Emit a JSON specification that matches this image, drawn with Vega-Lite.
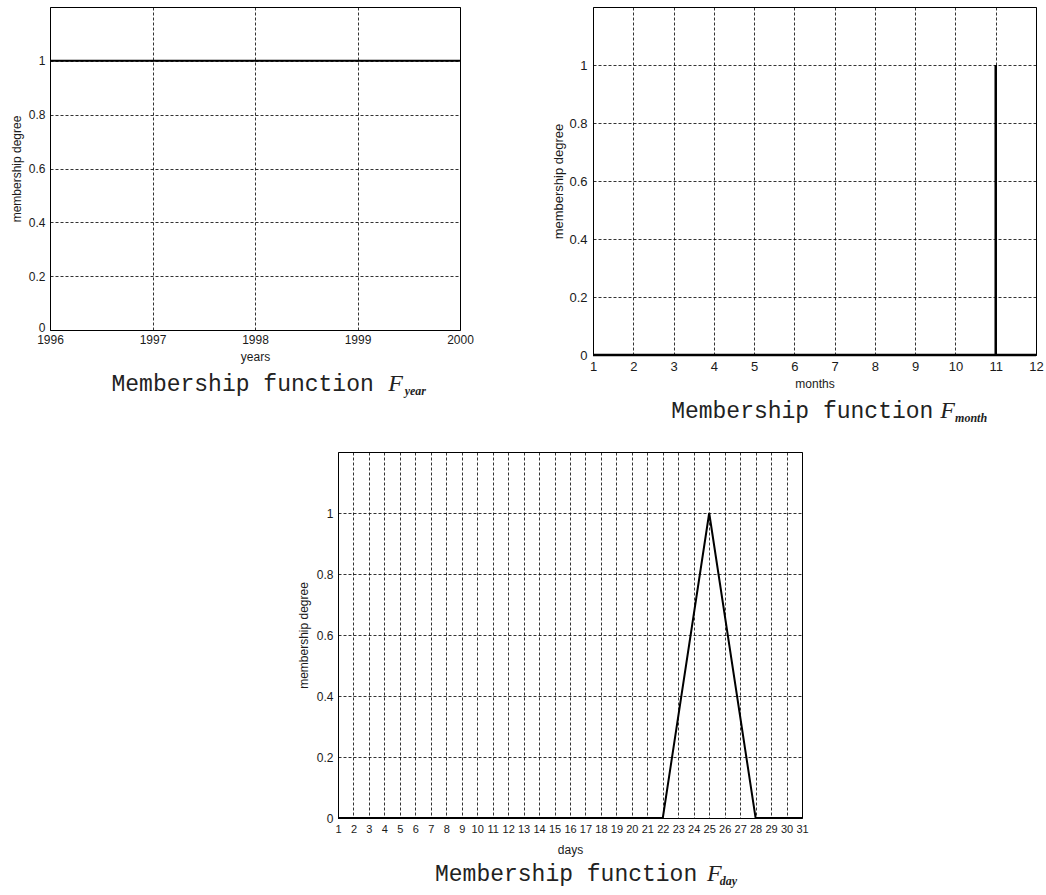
{
  "$schema": "https://vega.github.io/schema/vega-lite/v6.json",
  "background": "white",
  "padding": {"left": 9, "top": 6, "right": 0, "bottom": 0},
  "spacing": 26,
  "vconcat": [
    {
      "spacing": 78,
      "hconcat": [
        {
          "width": 410,
          "height": 323,
          "layer": [
            {
              "data": {"values": [{"year": 1996, "degree": 1}, {"year": 2000, "degree": 1}]},
              "mark": {"type": "line", "color": "#000", "strokeWidth": 2},
              "encoding": {
                "x": {"field": "year", "type": "quantitative",
                      "scale": {"domain": [1996, 2000], "nice": false, "zero": false},
                      "axis": {"values": [1996, 1997, 1998, 1999, 2000], "format": "d", "title": "years", "labelPadding": 4, "titlePadding": 6}},
                "y": {"field": "degree", "type": "quantitative",
                      "scale": {"domain": [0, 1.2], "nice": false},
                      "axis": {"values": [0, 0.2, 0.4, 0.6, 0.8, 1], "format": "~g", "title": "membership degree", "labelPadding": 5, "titlePadding": 5,
                               "labelOffset": {"condition": {"test": "datum.value === 0", "value": -3}, "value": 0}}}
              }
            },
            {
              "data": {"values": [{"caption": "Membership function", "symbol": "F", "sub": "year"}]},
              "layer": [
                {
                  "mark": {"type": "text", "font": "Liberation Mono", "fontSize": 23, "align": "left", "baseline": "alphabetic", "color": "#222"},
                  "encoding": {
                    "x": {"datum": 1996.6, "type": "quantitative", "axis": {"values": [1996, 1997, 1998, 1999, 2000], "format": "d", "title": "years", "labelPadding": 4, "titlePadding": 6}},
                    "y": {"datum": -0.227, "type": "quantitative", "axis": {"values": [0, 0.2, 0.4, 0.6, 0.8, 1], "format": "~g", "title": "membership degree", "labelPadding": 5, "titlePadding": 5,
                                                                            "labelOffset": {"condition": {"test": "datum.value === 0", "value": -3}, "value": 0}}},
                    "text": {"field": "caption"}
                  }
                },
                {
                  "mark": {"type": "text", "font": "Liberation Serif", "fontStyle": "italic", "fontSize": 24, "align": "left", "baseline": "alphabetic", "color": "#222"},
                  "encoding": {
                    "x": {"datum": 1999.3, "type": "quantitative", "axis": {"values": [1996, 1997, 1998, 1999, 2000], "format": "d", "title": "years", "labelPadding": 4, "titlePadding": 6}},
                    "y": {"datum": -0.227, "type": "quantitative", "axis": {"values": [0, 0.2, 0.4, 0.6, 0.8, 1], "format": "~g", "title": "membership degree", "labelPadding": 5, "titlePadding": 5,
                                                                            "labelOffset": {"condition": {"test": "datum.value === 0", "value": -3}, "value": 0}}},
                    "text": {"field": "symbol"}
                  }
                },
                {
                  "mark": {"type": "text", "font": "Liberation Serif", "fontStyle": "italic", "fontWeight": "bold", "fontSize": 12, "align": "left", "baseline": "alphabetic", "color": "#222"},
                  "encoding": {
                    "x": {"datum": 1999.46, "type": "quantitative", "axis": {"values": [1996, 1997, 1998, 1999, 2000], "format": "d", "title": "years", "labelPadding": 4, "titlePadding": 6}},
                    "y": {"datum": -0.243, "type": "quantitative", "axis": {"values": [0, 0.2, 0.4, 0.6, 0.8, 1], "format": "~g", "title": "membership degree", "labelPadding": 5, "titlePadding": 5,
                                                                            "labelOffset": {"condition": {"test": "datum.value === 0", "value": -3}, "value": 0}}},
                    "text": {"field": "sub"}
                  }
                }
              ]
            }
          ]
        },
        {
          "width": 443,
          "height": 348,
          "layer": [
            {
              "data": {"values": [
                {"step": 1, "month": 1, "degree": 0},
                {"step": 2, "month": 11, "degree": 0},
                {"step": 3, "month": 11, "degree": 1},
                {"step": 4, "month": 11, "degree": 0},
                {"step": 5, "month": 12, "degree": 0}
              ]},
              "mark": {"type": "line", "color": "#000", "strokeWidth": 2.5},
              "encoding": {
                "order": {"field": "step", "type": "quantitative"},
                "x": {"field": "month", "type": "quantitative",
                      "scale": {"domain": [1, 12], "nice": false, "zero": false},
                      "axis": {"values": [1, 2, 3, 4, 5, 6, 7, 8, 9, 10, 11, 12], "format": "d", "title": "months", "labelFontSize": 13, "labelPadding": 5, "titlePadding": 5}},
                "y": {"field": "degree", "type": "quantitative",
                      "scale": {"domain": [0, 1.2], "nice": false},
                      "axis": {"values": [0, 0.2, 0.4, 0.6, 0.8, 1], "format": "~g", "title": "membership degree", "labelFontSize": 13, "titleFontSize": 13, "labelPadding": 6, "titlePadding": 3}}
              }
            },
            {
              "data": {"values": [{"caption": "Membership function", "symbol": "F", "sub": "month"}]},
              "layer": [
                {
                  "mark": {"type": "text", "font": "Liberation Mono", "fontSize": 23, "align": "left", "baseline": "alphabetic", "color": "#222"},
                  "encoding": {
                    "x": {"datum": 2.94, "type": "quantitative", "axis": {"values": [1, 2, 3, 4, 5, 6, 7, 8, 9, 10, 11, 12], "format": "d", "title": "months", "labelFontSize": 13, "labelPadding": 5, "titlePadding": 5}},
                    "y": {"datum": -0.217, "type": "quantitative", "axis": {"values": [0, 0.2, 0.4, 0.6, 0.8, 1], "format": "~g", "title": "membership degree", "labelFontSize": 13, "titleFontSize": 13, "labelPadding": 6, "titlePadding": 3}},
                    "text": {"field": "caption"}
                  }
                },
                {
                  "mark": {"type": "text", "font": "Liberation Serif", "fontStyle": "italic", "fontSize": 24, "align": "left", "baseline": "alphabetic", "color": "#222"},
                  "encoding": {
                    "x": {"datum": 9.62, "type": "quantitative", "axis": {"values": [1, 2, 3, 4, 5, 6, 7, 8, 9, 10, 11, 12], "format": "d", "title": "months", "labelFontSize": 13, "labelPadding": 5, "titlePadding": 5}},
                    "y": {"datum": -0.217, "type": "quantitative", "axis": {"values": [0, 0.2, 0.4, 0.6, 0.8, 1], "format": "~g", "title": "membership degree", "labelFontSize": 13, "titleFontSize": 13, "labelPadding": 6, "titlePadding": 3}},
                    "text": {"field": "symbol"}
                  }
                },
                {
                  "mark": {"type": "text", "font": "Liberation Serif", "fontStyle": "italic", "fontWeight": "bold", "fontSize": 12, "align": "left", "baseline": "alphabetic", "color": "#222"},
                  "encoding": {
                    "x": {"datum": 9.99, "type": "quantitative", "axis": {"values": [1, 2, 3, 4, 5, 6, 7, 8, 9, 10, 11, 12], "format": "d", "title": "months", "labelFontSize": 13, "labelPadding": 5, "titlePadding": 5}},
                    "y": {"datum": -0.232, "type": "quantitative", "axis": {"values": [0, 0.2, 0.4, 0.6, 0.8, 1], "format": "~g", "title": "membership degree", "labelFontSize": 13, "titleFontSize": 13, "labelPadding": 6, "titlePadding": 3}},
                    "text": {"field": "sub"}
                  }
                }
              ]
            }
          ]
        }
      ]
    },
    {
      "spacing": 0,
      "hconcat": [
        {
          "width": 246,
          "height": 10,
          "view": {"stroke": null},
          "data": {"values": []},
          "mark": "point"
        },
        {
          "width": 464,
          "height": 366,
          "layer": [
            {
              "data": {"values": [
                {"day": 1, "degree": 0},
                {"day": 22, "degree": 0},
                {"day": 25, "degree": 1},
                {"day": 28, "degree": 0},
                {"day": 31, "degree": 0}
              ]},
              "mark": {"type": "line", "color": "#000", "strokeWidth": 2},
              "encoding": {
                "x": {"field": "day", "type": "quantitative",
                      "scale": {"domain": [1, 31], "nice": false, "zero": false},
                      "axis": {"values": [1, 2, 3, 4, 5, 6, 7, 8, 9, 10, 11, 12, 13, 14, 15, 16, 17, 18, 19, 20, 21, 22, 23, 24, 25, 26, 27, 28, 29, 30, 31], "format": "d", "title": "days", "labelFontSize": 11, "labelPadding": 5, "titlePadding": 10}},
                "y": {"field": "degree", "type": "quantitative",
                      "scale": {"domain": [0, 1.2], "nice": false},
                      "axis": {"values": [0, 0.2, 0.4, 0.6, 0.8, 1], "format": "~g", "title": "membership degree", "labelPadding": 5, "titlePadding": 6}}
              }
            },
            {
              "data": {"values": [{"caption": "Membership function", "symbol": "F", "sub": "day"}]},
              "layer": [
                {
                  "mark": {"type": "text", "font": "Liberation Mono", "fontSize": 23, "align": "left", "baseline": "alphabetic", "color": "#222"},
                  "encoding": {
                    "x": {"datum": 7.27, "type": "quantitative", "axis": {"values": [1, 2, 3, 4, 5, 6, 7, 8, 9, 10, 11, 12, 13, 14, 15, 16, 17, 18, 19, 20, 21, 22, 23, 24, 25, 26, 27, 28, 29, 30, 31], "format": "d", "title": "days", "labelFontSize": 11, "labelPadding": 5, "titlePadding": 10}},
                    "y": {"datum": -0.207, "type": "quantitative", "axis": {"values": [0, 0.2, 0.4, 0.6, 0.8, 1], "format": "~g", "title": "membership degree", "labelPadding": 5, "titlePadding": 6}},
                    "text": {"field": "caption"}
                  }
                },
                {
                  "mark": {"type": "text", "font": "Liberation Serif", "fontStyle": "italic", "fontSize": 24, "align": "left", "baseline": "alphabetic", "color": "#222"},
                  "encoding": {
                    "x": {"datum": 24.85, "type": "quantitative", "axis": {"values": [1, 2, 3, 4, 5, 6, 7, 8, 9, 10, 11, 12, 13, 14, 15, 16, 17, 18, 19, 20, 21, 22, 23, 24, 25, 26, 27, 28, 29, 30, 31], "format": "d", "title": "days", "labelFontSize": 11, "labelPadding": 5, "titlePadding": 10}},
                    "y": {"datum": -0.207, "type": "quantitative", "axis": {"values": [0, 0.2, 0.4, 0.6, 0.8, 1], "format": "~g", "title": "membership degree", "labelPadding": 5, "titlePadding": 6}},
                    "text": {"field": "symbol"}
                  }
                },
                {
                  "mark": {"type": "text", "font": "Liberation Serif", "fontStyle": "italic", "fontWeight": "bold", "fontSize": 12, "align": "left", "baseline": "alphabetic", "color": "#222"},
                  "encoding": {
                    "x": {"datum": 25.69, "type": "quantitative", "axis": {"values": [1, 2, 3, 4, 5, 6, 7, 8, 9, 10, 11, 12, 13, 14, 15, 16, 17, 18, 19, 20, 21, 22, 23, 24, 25, 26, 27, 28, 29, 30, 31], "format": "d", "title": "days", "labelFontSize": 11, "labelPadding": 5, "titlePadding": 10}},
                    "y": {"datum": -0.22, "type": "quantitative", "axis": {"values": [0, 0.2, 0.4, 0.6, 0.8, 1], "format": "~g", "title": "membership degree", "labelPadding": 5, "titlePadding": 6}},
                    "text": {"field": "sub"}
                  }
                }
              ]
            }
          ]
        }
      ]
    }
  ],
  "config": {
    "view": {"stroke": "#000", "strokeWidth": 1},
    "axis": {
      "grid": true,
      "gridColor": "#000",
      "gridDash": [3, 2],
      "gridWidth": 1,
      "gridOpacity": 0.8,
      "domain": false,
      "ticks": false,
      "labelFont": "Liberation Sans",
      "labelFontSize": 12,
      "labelColor": "#1a1a1a",
      "labelFlush": false,
      "labelOverlap": false,
      "titleFont": "Liberation Sans",
      "titleFontSize": 12,
      "titleFontWeight": "normal",
      "titleColor": "#1a1a1a"
    }
  }
}
